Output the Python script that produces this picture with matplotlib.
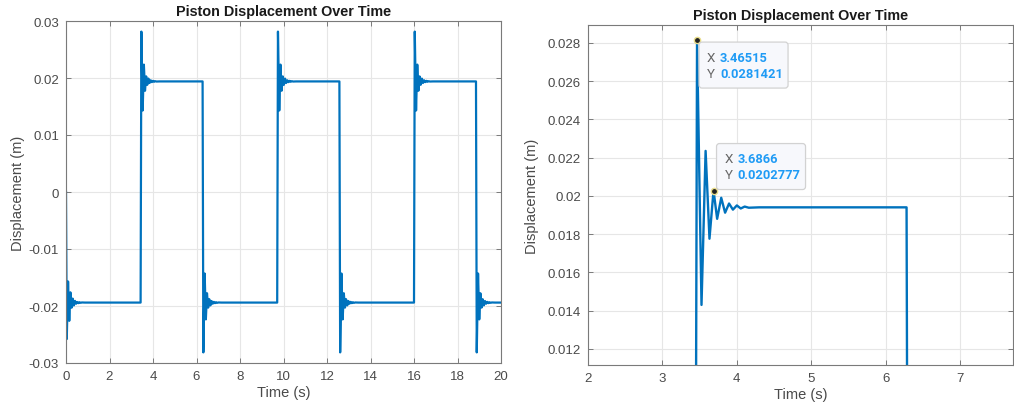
import numpy as np
import matplotlib
matplotlib.use("Agg")
import matplotlib.pyplot as plt
from matplotlib.patches import FancyBboxPatch
from matplotlib.transforms import IdentityTransform

# ---------------- data ----------------
settle_level = 0.0194
switch_times = [0.0, 3.43, 6.28, 9.71, 12.57, 16.00, 18.85]
switch_dirs = [-1, 1, -1, 1, -1, 1, -1]
t_end = 20.0
# ringing after a switch: time offsets (s) and |displacement| (m) of peaks / troughs
ring_dt = [0.035, 0.095, 0.150, 0.202, 0.2566, 0.305, 0.360, 0.412, 0.465,
           0.517, 0.570, 0.622, 0.675, 0.730, 0.870]
ring_y = [0.02814, 0.0143, 0.02235, 0.01776, 0.02028, 0.0188, 0.0199, 0.01912,
          0.0196, 0.01928, 0.0195, 0.01934, 0.01944, 0.01938, 0.0194]
start_ring_y = [0.0258, 0.0157, 0.0226, 0.0176, 0.0203, 0.0187, 0.0199, 0.0191,
                0.0196, 0.0193, 0.0195, 0.01934, 0.01944, 0.01938, 0.0194]
# data tips
tip_x = [3.46515, 3.6866]
tip_y = [0.0281421, 0.0202777]
tip_xlabels = ["3.46515", "3.6866"]
tip_ylabels = ["0.0281421", "0.0202777"]

left_xticks = [0, 2, 4, 6, 8, 10, 12, 14, 16, 18, 20]
left_yticks = [-0.03, -0.02, -0.01, 0, 0.01, 0.02, 0.03]
right_xticks = [2, 3, 4, 5, 6, 7]
right_yticks = [0.012, 0.014, 0.016, 0.018, 0.02, 0.022, 0.024, 0.026, 0.028]

# ---------------- build series from the read points ----------------
t_pts, y_pts = [], []
prev = 0.0
for i, (t0, d) in enumerate(zip(switch_times, switch_dirs)):
    ring = start_ring_y if i == 0 else ring_y
    t_pts.append(t0)
    y_pts.append(prev)
    for dt, yv in zip(ring_dt, ring):
        t_pts.append(t0 + dt)
        y_pts.append(d * yv)
    prev = d * settle_level
t_pts.append(t_end)
y_pts.append(prev)
t_pts = np.array(t_pts)
y_pts = np.array(y_pts)

# ---------------- figure ----------------
plt.rcParams['font.family'] = ['Liberation Sans', 'DejaVu Sans']
W, H = 1014, 414
fig = plt.figure(figsize=(W / 100, H / 100), dpi=100)
fig.patch.set_facecolor('white')

line_color = '#0072BD'
tick_color = '#4a4a4a'
spine_color = '#7a7a7a'
grid_color = '#e6e6e6'


def style(ax):
    for s in ax.spines.values():
        s.set_color(spine_color)
        s.set_linewidth(0.8)
    ax.tick_params(direction='in', top=True, right=True, length=3.5, width=0.7,
                   colors=spine_color, labelcolor=tick_color, labelsize=9.5, pad=5)
    ax.grid(True, color=grid_color, linewidth=0.8)
    ax.set_axisbelow(True)


def px_ax(l, t, r, b):
    return fig.add_axes([l / W, 1 - b / H, (r - l) / W, (b - t) / H])


# left panel
ax1 = px_ax(66, 22, 501, 364)
ax1.plot(t_pts, y_pts, color=line_color, linewidth=1.6)
ax1.set_xlim(0, 20)
ax1.set_ylim(-0.03, 0.03)
ax1.set_xticks(left_xticks)
ax1.set_yticks(left_yticks)
ax1.set_yticklabels([f"{v:g}" for v in left_yticks])
style(ax1)
ax1.set_title("Piston Displacement Over Time", fontsize=10.4, fontweight='bold',
              color='#1a1a1a', pad=4)
ax1.set_xlabel("Time (s)", fontsize=10.5, color=tick_color, labelpad=2)
ax1.set_ylabel("Displacement (m)", fontsize=10.5, color=tick_color, labelpad=3)

# right panel
ax2 = px_ax(588, 26, 1013, 366)
ax2.plot(t_pts, y_pts, color=line_color, linewidth=1.7)
ax2.set_xlim(2, 7.71)
ax2.set_ylim(0.01116, 0.02893)
ax2.set_xticks(right_xticks)
ax2.set_yticks(right_yticks)
ax2.set_yticklabels([f"{v:g}" for v in right_yticks])
style(ax2)
ax2.set_title("Piston Displacement Over Time", fontsize=10.4, fontweight='bold',
              color='#1a1a1a', pad=4)
ax2.set_xlabel("Time (s)", fontsize=10.5, color=tick_color, labelpad=2)
ax2.set_ylabel("Displacement (m)", fontsize=10.5, color=tick_color, labelpad=6)

ax2.plot(tip_x, tip_y, linestyle='none', marker='o', markersize=4.5,
         markerfacecolor='#222222', markeredgecolor='#e8dc8a',
         markeredgewidth=1.0, zorder=5)

# data tip boxes (pixel offsets relative to the tip point)
fig.canvas.draw()
box_offsets = [(2, 2), (3, -47)]
box_w, box_h = 89, 46
for xv, yv, xl, yl, (dx, dy) in zip(tip_x, tip_y, tip_xlabels, tip_ylabels, box_offsets):
    px, py = ax2.transData.transform((xv, yv))
    left = px + dx
    top = py - dy
    patch = FancyBboxPatch((left, top - box_h), box_w, box_h,
                           boxstyle="round,pad=0,rounding_size=3",
                           facecolor='#f7f8fc', edgecolor='#d2d2d2',
                           linewidth=0.9, transform=IdentityTransform(), zorder=6)
    fig.add_artist(patch)
    for k, (lab, val) in enumerate([("X", xl), ("Y", yl)]):
        ty = top - 15 - k * 16
        fig.text(left + 8, ty, lab, transform=IdentityTransform(), fontsize=9.6,
                 color='#666666', va='center', ha='left', family=['Roboto', 'DejaVu Sans'],
                 zorder=7)
        fig.text(left + 21, ty, val, transform=IdentityTransform(), fontsize=9.3,
                 color='#1f9bf5', fontweight='bold', va='center', ha='left',
                 family=['Roboto', 'DejaVu Sans'], zorder=7)

fig.savefig("out.png", dpi=100, facecolor='white')
